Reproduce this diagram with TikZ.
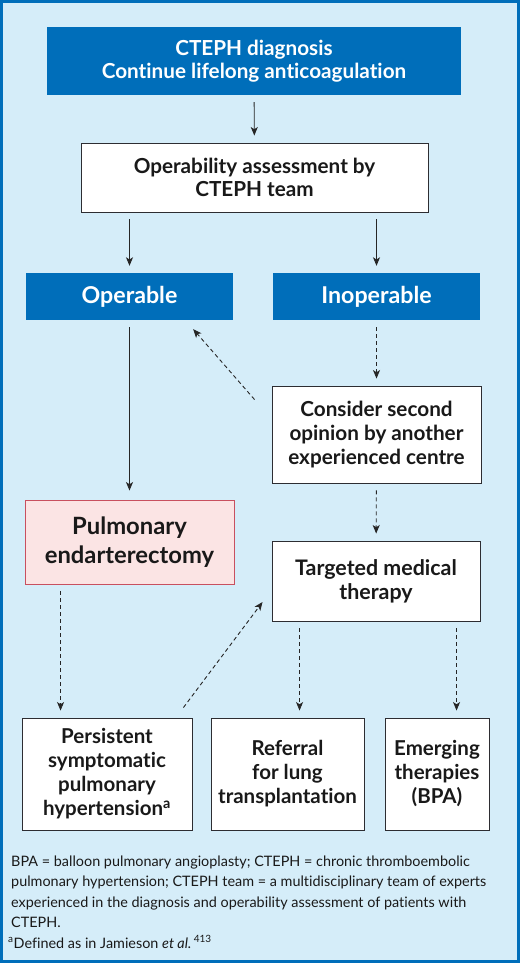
\documentclass[tikz,border=0pt]{standalone}
\usepackage{fontspec}
\setmainfont{Lato}[Ligatures=NoCommon]
\usetikzlibrary{arrows.meta,calc}
\definecolor{bgblue}{RGB}{213,237,249}
\definecolor{hdblue}{RGB}{0,110,186}
\definecolor{pinkfill}{RGB}{251,228,228}
\definecolor{pinkline}{RGB}{200,80,95}
\definecolor{boxline}{RGB}{45,45,50}
\definecolor{txt}{RGB}{25,25,25}
\begin{document}
\begin{tikzpicture}[x=1pt,y=-1pt,
  base/.style={inner sep=0pt, align=center, font=\bfseries\fontsize{20.7}{22.5}\selectfont},
  bluebox/.style={base, fill=hdblue, text=white},
  whitebox/.style={base, fill=white, draw=boxline, line width=0.9pt, text=txt, font=\bfseries\fontsize{20.5}{24}\selectfont},
  pinkbox/.style={base, fill=pinkfill, draw=pinkline, line width=0.9pt, text=txt, font=\bfseries\fontsize{23.8}{29}\selectfont},
  arr/.style={-{Stealth[length=8.5pt,width=7pt,inset=2.2pt]}, line width=0.9pt, draw=black!85, shorten <=7pt, shorten >=7pt},
  darr/.style={arr, dash pattern=on 4pt off 3pt},
  fn/.style={anchor=base west, inner sep=0pt, text=txt, font=\fontsize{14.4}{20}\selectfont}]
\useasboundingbox (0,0) rectangle (520,963);
\fill[bgblue] (0,0) rectangle (520,963);
\draw[hdblue, line width=3pt] (1.5,1.5) rectangle (518.5,961.5);

\node[bluebox, minimum width=414pt, minimum height=68pt] (top) at (254,61)
  {CTEPH diagnosis\\Continue lifelong anticoagulation};
\node[whitebox, minimum width=347pt, minimum height=69pt, font=\bfseries\fontsize{20.7}{23}\selectfont] (oper) at (254.5,177.5)
  {Operability assessment by\\CTEPH team};
\node[bluebox, minimum width=207pt, minimum height=47pt, font=\bfseries\fontsize{23.2}{24}\selectfont] (operable) at (129.5,296.5) {Operable};
\node[bluebox, minimum width=207pt, minimum height=47pt, font=\bfseries\fontsize{23.2}{24}\selectfont] (inoperable) at (376.5,296.5) {Inoperable};
\node[whitebox, minimum width=209pt, minimum height=97pt, font=\bfseries\fontsize{20.7}{24}\selectfont] (consider) at (376.5,434.5)
  {Consider second\\opinion by another\\experienced centre};
\node[pinkbox, minimum width=209pt, minimum height=84pt] (pulm) at (129.5,542)
  {Pulmonary\\endarterectomy};
\node[whitebox, minimum width=208pt, minimum height=80pt, font=\bfseries\fontsize{21.4}{24}\selectfont] (target) at (376,581)
  {Targeted medical\\therapy};
\node[whitebox, minimum width=170pt, minimum height=112pt] (persist) at (107,774)
  {Persistent\\symptomatic\\pulmonary\\hypertension\textsuperscript{a}};
\node[whitebox, minimum width=153pt, minimum height=112pt] (referral) at (287.5,774)
  {Referral\\for lung\\transplantation};
\node[whitebox, minimum width=104pt, minimum height=112pt] (emerging) at (437,774)
  {Emerging\\therapies\\(BPA)};

% connectors
\draw[arr] (top) -- (oper);
\draw[arr] (operable.north |- oper.south) -- (operable.north);
\draw[arr] (inoperable.north |- oper.south) -- (inoperable.north);
\draw[arr, shorten >=9pt] (operable) -- (pulm);
\draw[darr] (inoperable) -- (consider);
\draw[darr] (consider) -- (target);
\coordinate (dgs) at ($(consider.north west)+(-17,14)$);
\coordinate (dge) at ($(operable.south east)+(-40,9)$);
\draw[darr, shorten <=0pt, shorten >=0pt] (dgs) -- (dge);
\coordinate (pa) at ($(pulm.south west)+(36,0)$);
\draw[darr] (pa) -- (pa |- persist.north);
\coordinate (ps) at ($(persist.north east)+(-9,-10)$);
\coordinate (pe) at ($(target.west)+(-9,21)$);
\draw[darr, shorten <=0pt, shorten >=0pt] (ps) -- (pe);
\coordinate (ta) at ($(target.south west)+(28,0)$);
\coordinate (tb) at ($(target.south west)+(185,0)$);
\draw[darr] (ta) -- (ta |- referral.north);
\draw[darr] (tb) -- (tb |- emerging.north);

% footnote
\node[fn] (fn1) at (11,866) {BPA = balloon pulmonary angioplasty; CTEPH = chronic thromboembolic};
\node[fn] (fn2) at (11,886.5) {pulmonary hypertension; CTEPH team = a multidisciplinary team of experts};
\node[fn] (fn3) at (11,907) {experienced in the diagnosis and operability assessment of patients with};
\node[fn] (fn4) at (11,927.5) {CTEPH.};
\node[fn] (fn5) at (8,948) {\textsuperscript{a}Defined as in Jamieson \textit{et al.}\,\textsuperscript{413}};
\end{tikzpicture}
\end{document}
